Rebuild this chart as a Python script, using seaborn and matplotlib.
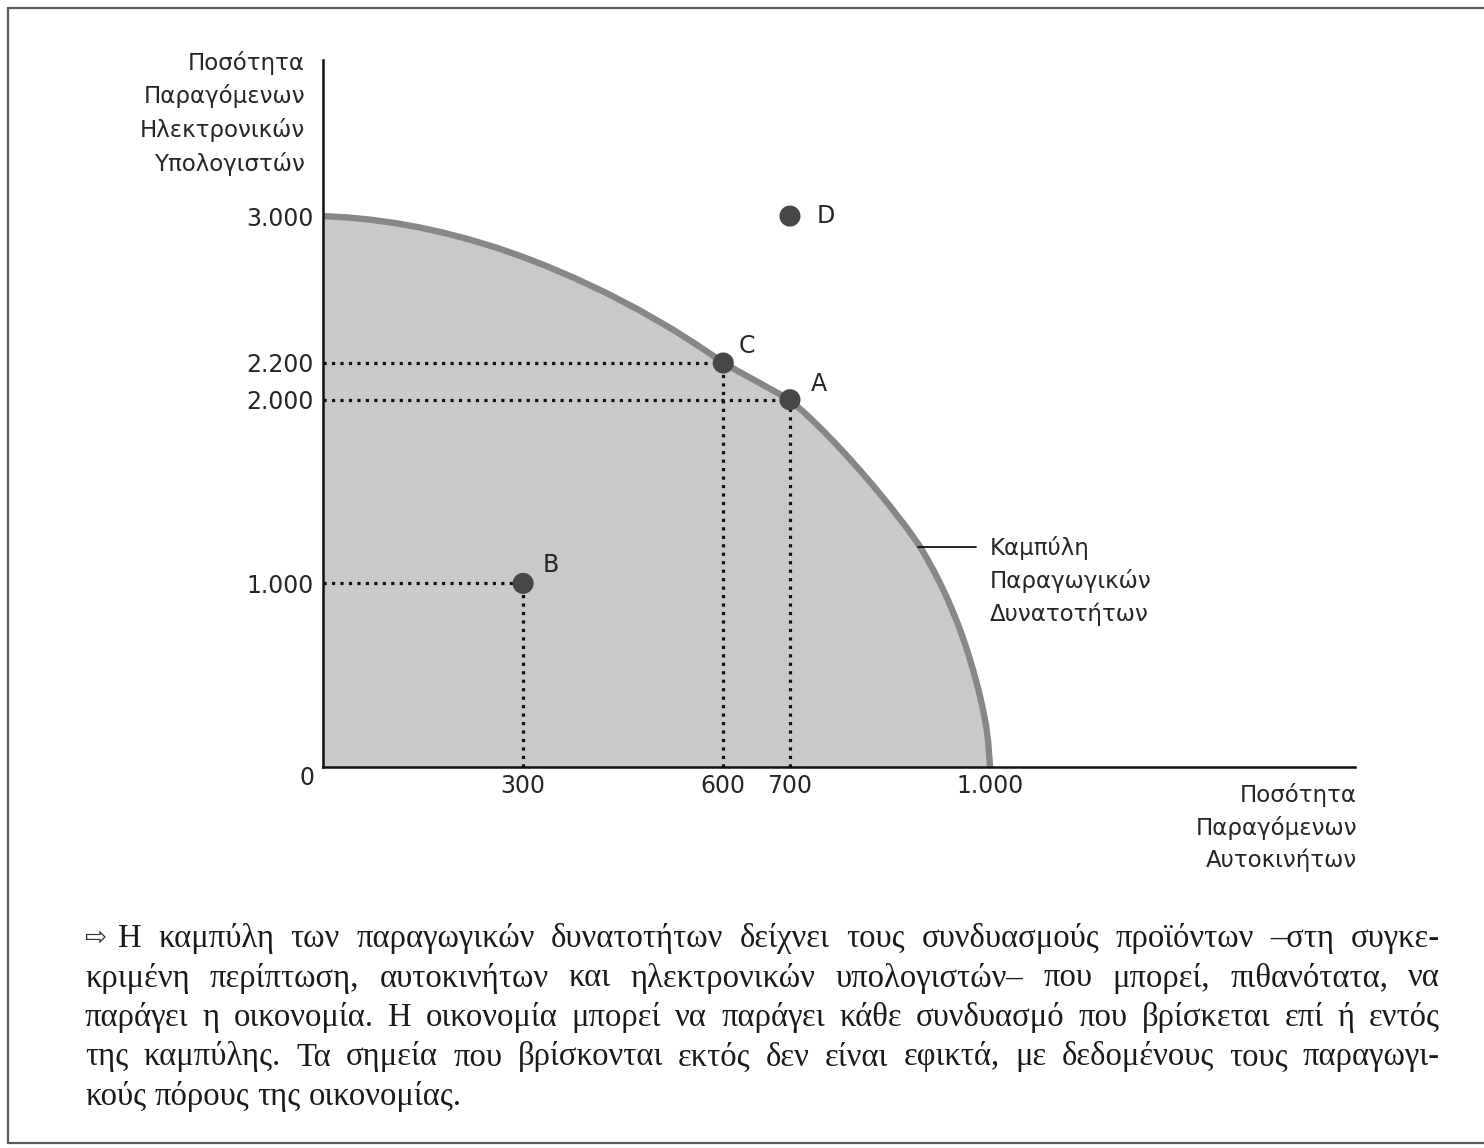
import matplotlib
matplotlib.use("Agg")
import matplotlib.pyplot as plt
import seaborn as sns
import pandas as pd
from matplotlib.lines import Line2D

# production possibilities frontier
curve_x = [0, 35, 70, 110, 145, 180, 220, 260, 295, 335, 375, 425, 475, 525, 560, 585,
           600, 625, 650, 675, 700, 725, 745, 765, 785, 805, 825, 850, 876, 895,
           905, 915, 925, 935, 943, 951, 957, 963, 969, 975, 980, 985, 990, 994, 997, 1000]
curve_y = [3000, 2993, 2981, 2961, 2938, 2910, 2872, 2828, 2784, 2728, 2666, 2581, 2486,
           2381, 2300, 2239, 2200, 2150, 2100, 2050, 2000, 1918, 1848, 1774, 1696, 1615,
           1531, 1420, 1298, 1200, 1138, 1072, 1001, 924, 857, 785, 727, 664, 596, 522,
           456, 384, 302, 225, 140, 0]

point_names = ["A", "B", "C", "D"]
point_x = [700, 300, 600, 700]
point_y = [2000, 1000, 2200, 3000]

x_ticks = [300, 600, 700, 1000]
x_tick_labels = ["300", "600", "700", "1.000"]
y_ticks = [1000, 2000, 2200, 3000]
y_tick_labels = ["1.000", "2.000", "2.200", "3.000"]

y_title = ["Ποσότητα", "Παραγόμενων", "Ηλεκτρονικών", "Υπολογιστών"]
x_title = ["Ποσότητα", "Παραγόμενων", "Αυτοκινήτων"]
curve_title = ["Καμπύλη", "Παραγωγικών", "Δυνατοτήτων"]

caption = [
    "Η καμπύλη των παραγωγικών δυνατοτήτων δείχνει τους συνδυασμούς προϊόντων –στη συγκε-",
    "κριμένη περίπτωση, αυτοκινήτων και ηλεκτρονικών υπολογιστών– που μπορεί, πιθανότατα, να",
    "παράγει η οικονομία. Η οικονομία μπορεί να παράγει κάθε συνδυασμό που βρίσκεται επί ή εντός",
    "της καμπύλης. Τα σημεία που βρίσκονται εκτός δεν είναι εφικτά, με δεδομένους τους παραγωγι-",
    "κούς πόρους της οικονομίας.",
]

sns.set_theme(style="white")
plt.rcParams["font.family"] = ["DejaVu Sans"]

W, H = 1484, 1148
fig = plt.figure(figsize=(W / 100, H / 100), dpi=100)
fig.patch.set_facecolor("white")
ink = "#262626"


def fx(x):
    return x / W


def fy(y):
    return 1 - y / H


ax = fig.add_axes([fx(323), 381 / H, 1032 / W, 707 / H])
ax.set_facecolor("none")

curve = pd.DataFrame({"x": curve_x, "y": curve_y})
points = pd.DataFrame({"name": point_names, "x": point_x, "y": point_y})

ax.fill_between(curve["x"], curve["y"], 0, color="#c9c9c9", lw=0, zorder=1)
sns.lineplot(data=curve, x="x", y="y", ax=ax, color="#878787", lw=4.6,
             sort=False, estimator=None, zorder=3, solid_capstyle="butt",
             solid_joinstyle="round")

# dotted guides from the axes to A, B, C
for name in ["A", "B", "C"]:
    r = points[points["name"] == name].iloc[0]
    ax.plot([0, r["x"]], [r["y"], r["y"]], ls=":", lw=2.3, color="#111111", zorder=2)
    ax.plot([r["x"], r["x"]], [0, r["y"]], ls=":", lw=2.3, color="#111111", zorder=2)

sns.scatterplot(data=points, x="x", y="y", ax=ax, s=230, color="#474747",
                edgecolor="none", zorder=5, legend=False)

offsets = {"A": (21, 11), "B": (20, 13), "C": (17, 12), "D": (19, 0)}
for _, r in points.iterrows():
    ha = "left" if r["name"] == "D" else "center"
    ax.annotate(r["name"], (r["x"], r["y"]), xytext=offsets[r["name"]],
                textcoords="offset points", ha=ha, va="center", fontsize=17, color=ink)

ax.set_xlim(0, 1547)
ax.set_ylim(0, 3850)
ax.set_xticks(x_ticks)
ax.set_xticklabels(x_tick_labels)
ax.set_yticks(y_ticks)
ax.set_yticklabels(y_tick_labels)
ax.set_xlabel("")
ax.set_ylabel("")
ax.tick_params(axis="both", length=0, labelsize=17, colors=ink)
ax.tick_params(axis="y", pad=7)
ax.tick_params(axis="x", pad=5)
sns.despine(ax=ax)
for side in ["left", "bottom"]:
    ax.spines[side].set_color("#111111")
    ax.spines[side].set_linewidth(1.8)
    ax.spines[side].set_zorder(6)

fig.text(fx(307), fy(778), "0", fontsize=17, ha="center", va="center", color=ink)

for i, t in enumerate(y_title):
    fig.text(fx(305), fy(63 + 33.5 * i), t, fontsize=16.5, ha="right", va="center", color=ink)
for i, t in enumerate(x_title):
    fig.text(fx(1357), fy(795 + 32.5 * i), t, fontsize=16.5, ha="right", va="center", color=ink)
for i, t in enumerate(curve_title):
    fig.text(fx(990), fy(548 + 33 * i), t, fontsize=16.5, ha="left", va="center", color=ink)
fig.add_artist(Line2D([fx(918), fx(976)], [fy(547), fy(547)], color="#111111", lw=1.3))

# frame around the figure box
frame_kw = dict(color="#5a5a5a", lw=1.6)
fig.add_artist(Line2D([fx(8), fx(1484)], [fy(8), fy(8)], **frame_kw))
fig.add_artist(Line2D([fx(8), fx(8)], [fy(8), fy(1143)], **frame_kw))
fig.add_artist(Line2D([fx(8), fx(1484)], [fy(1143), fy(1143)], **frame_kw))

# caption, justified line by line
serif = ["Liberation Serif", "DejaVu Serif"]
cap_size = 23.5
renderer = fig.canvas.get_renderer()
fig.text(fx(84), fy(946), "⇨", fontsize=19, family=["DejaVu Sans"], ha="left",
         va="baseline", color="#333333")
for i, line in enumerate(caption):
    x0 = 118 if i == 0 else 85
    x1 = 1440
    base = 947 + 39.5 * i
    words = line.split(" ")
    texts = [fig.text(0, fy(base), w, fontsize=cap_size, family=serif, ha="left",
                      va="baseline", color="#1a1a1a") for w in words]
    widths = [t.get_window_extent(renderer=renderer).width for t in texts]
    if i == len(caption) - 1:
        gap = cap_size * 100 / 72 * 0.25
    else:
        gap = (x1 - x0 - sum(widths)) / (len(words) - 1)
    x = x0
    for t, w in zip(texts, widths):
        t.set_x(fx(x))
        x += w + gap

fig.savefig("out.png", dpi=100, facecolor="white")
